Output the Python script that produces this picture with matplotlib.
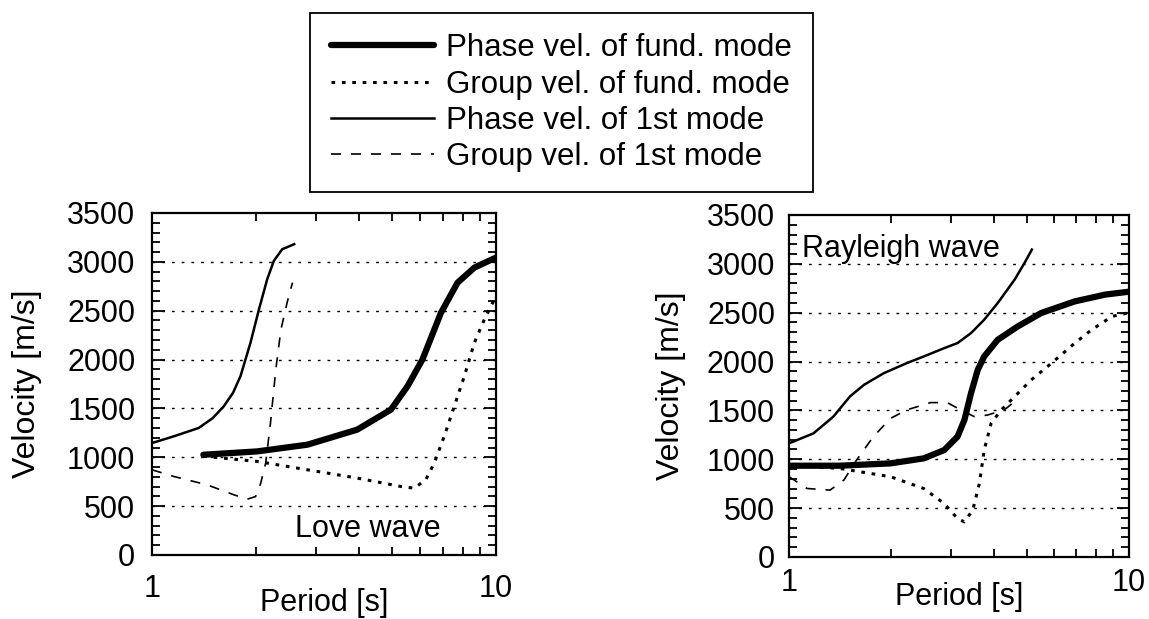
import matplotlib.pyplot as plt
from matplotlib.ticker import MultipleLocator, FixedLocator, NullFormatter

plt.rcParams['font.family'] = ['Liberation Sans', 'DejaVu Sans']

# Love wave (left panel)
love_phase0_T = [1.41, 2.02, 2.83, 3.95, 4.95, 5.53, 6.11, 6.92, 7.73, 8.65, 10.0]
love_phase0_v = [1026, 1060, 1129, 1283, 1488, 1727, 2000, 2480, 2787, 2941, 3044]
love_group0_T = [1.41, 2.02, 2.83, 3.95, 5.29, 5.78, 6.25, 6.61, 7.07, 7.56, 8.09, 8.65, 9.25, 10.0]
love_group0_v = [1010, 958, 872, 787, 701, 684, 770, 940, 1214, 1522, 1830, 2172, 2411, 2650]
love_phase1_T = [1.0, 1.156, 1.367, 1.5, 1.617, 1.72, 1.808, 1.933, 2.046, 2.162, 2.26, 2.39, 2.59]
love_phase1_v = [1146, 1214, 1300, 1400, 1522, 1660, 1830, 2172, 2514, 2822, 3010, 3129, 3181]
love_group1_T = [1.0, 1.156, 1.446, 1.73, 1.89, 2.0, 2.07, 2.14, 2.21, 2.29, 2.37, 2.47, 2.56]
love_group1_v = [872, 804, 718, 616, 571, 598, 735, 940, 1351, 1898, 2308, 2582, 2787]

# Rayleigh wave (right panel)
ray_phase0_T = [1.0, 1.41, 1.99, 2.49, 2.86, 3.13, 3.28, 3.43, 3.59, 3.75, 4.11, 4.71, 5.52, 6.93, 8.51, 10.0]
ray_phase0_v = [934, 934, 958, 1009, 1094, 1231, 1402, 1676, 1915, 2052, 2223, 2360, 2497, 2616, 2685, 2715]
ray_group0_T = [1.0, 1.41, 1.99, 2.49, 2.86, 3.13, 3.28, 3.47, 3.63, 3.75, 3.93, 4.21, 4.61, 5.16, 5.92, 6.93, 7.77, 8.91, 10.0]
ray_group0_v = [940, 906, 821, 701, 547, 393, 359, 479, 752, 1094, 1368, 1505, 1642, 1813, 1984, 2189, 2326, 2462, 2500]
ray_phase1_T = [1.0, 1.18, 1.35, 1.51, 1.66, 1.90, 2.22, 2.49, 2.86, 3.13, 3.43, 3.75, 4.11, 4.61, 4.93, 5.18]
ray_phase1_v = [1163, 1265, 1436, 1642, 1761, 1881, 1984, 2052, 2137, 2189, 2291, 2428, 2599, 2839, 3010, 3146]
ray_group1_T = [1.0, 1.13, 1.32, 1.45, 1.58, 1.77, 1.99, 2.22, 2.61, 2.92, 3.20, 3.51, 3.84, 4.30, 4.56]
ray_group1_v = [821, 701, 684, 787, 992, 1231, 1419, 1505, 1580, 1580, 1505, 1436, 1453, 1505, 1578]

labels = ["Phase vel. of fund. mode", "Group vel. of fund. mode",
          "Phase vel. of 1st mode", "Group vel. of 1st mode"]
grid_levels = [500, 1000, 1500, 2000, 2500, 3000]

FS = 22

fig = plt.figure(figsize=(11.49, 6.19), dpi=100)
ax1 = fig.add_axes([0.1323, 0.1034, 0.2994, 0.5525])
ax2 = fig.add_axes([0.6867, 0.1002, 0.2959, 0.5525])


def draw(ax, p0, g0, p1, g1, xpad, ypad):
    for y in grid_levels:
        ax.axhline(y, color='black', lw=1.0, ls=(0, (2, 5)), zorder=1)
    h1, = ax.plot(*p0, color='black', lw=4.5, solid_capstyle='round', zorder=3)
    h2, = ax.plot(*g0, color='black', lw=2.2, ls=(0, (1.2, 2.2)), zorder=3)
    h3, = ax.plot(*p1, color='black', lw=1.8, zorder=3)
    h4, = ax.plot(*g1, color='black', lw=1.2, ls=(0, (6, 6)), zorder=3)
    ax.set_xscale('log')
    ax.set_xlim(1, 10)
    ax.set_ylim(0, 3500)
    ax.yaxis.set_major_locator(MultipleLocator(500))
    ax.yaxis.set_minor_locator(MultipleLocator(100))
    ax.xaxis.set_major_locator(FixedLocator([1, 10]))
    ax.xaxis.set_minor_locator(FixedLocator([2, 3, 4, 5, 6, 7, 8, 9]))
    ax.xaxis.set_minor_formatter(NullFormatter())
    ax.set_xticklabels(['1', '10'])
    ax.tick_params(which='both', direction='in', top=True, right=True,
                   labelsize=FS, width=1.3, color='black')
    ax.tick_params(axis='y', which='major', length=9, pad=ypad)
    ax.tick_params(axis='y', which='minor', length=6)
    ax.tick_params(axis='x', which='major', length=0, pad=xpad)
    ax.tick_params(axis='x', which='minor', length=6)
    for s in ax.spines.values():
        s.set_linewidth(1.6)
    ax.set_xlabel('Period [s]', fontsize=FS)
    ax.set_ylabel('Velocity [m/s]', fontsize=23)
    return [h1, h2, h3, h4]


handles = draw(ax1, (love_phase0_T, love_phase0_v), (love_group0_T, love_group0_v),
               (love_phase1_T, love_phase1_v), (love_group1_T, love_group1_v), 14, 12)
draw(ax2, (ray_phase0_T, ray_phase0_v), (ray_group0_T, ray_group0_v),
     (ray_phase1_T, ray_phase1_v), (ray_group1_T, ray_group1_v), 8, 10)

ax1.xaxis.set_label_coords(0.5, -0.097)
ax2.xaxis.set_label_coords(0.5, -0.073)
ax1.yaxis.set_label_coords(-0.32, 0.5)
ax2.yaxis.set_label_coords(-0.303, 0.5)

ax1.text(2.61, 270, 'Love wave', fontsize=FS, va='center', ha='left')
ax2.text(1.09, 3150, 'Rayleigh wave', fontsize=FS, va='center', ha='left')

leg = fig.legend(handles, labels, loc='upper center', bbox_to_anchor=(0.4887, 0.979),
                 fontsize=22.5, handlelength=3.3, handletextpad=0.4, labelspacing=0.2,
                 fancybox=False, framealpha=1, edgecolor='black', borderpad=0.65,
                 borderaxespad=0)
leg.get_frame().set_linewidth(1.3)

fig.savefig('out.png', dpi=100)
